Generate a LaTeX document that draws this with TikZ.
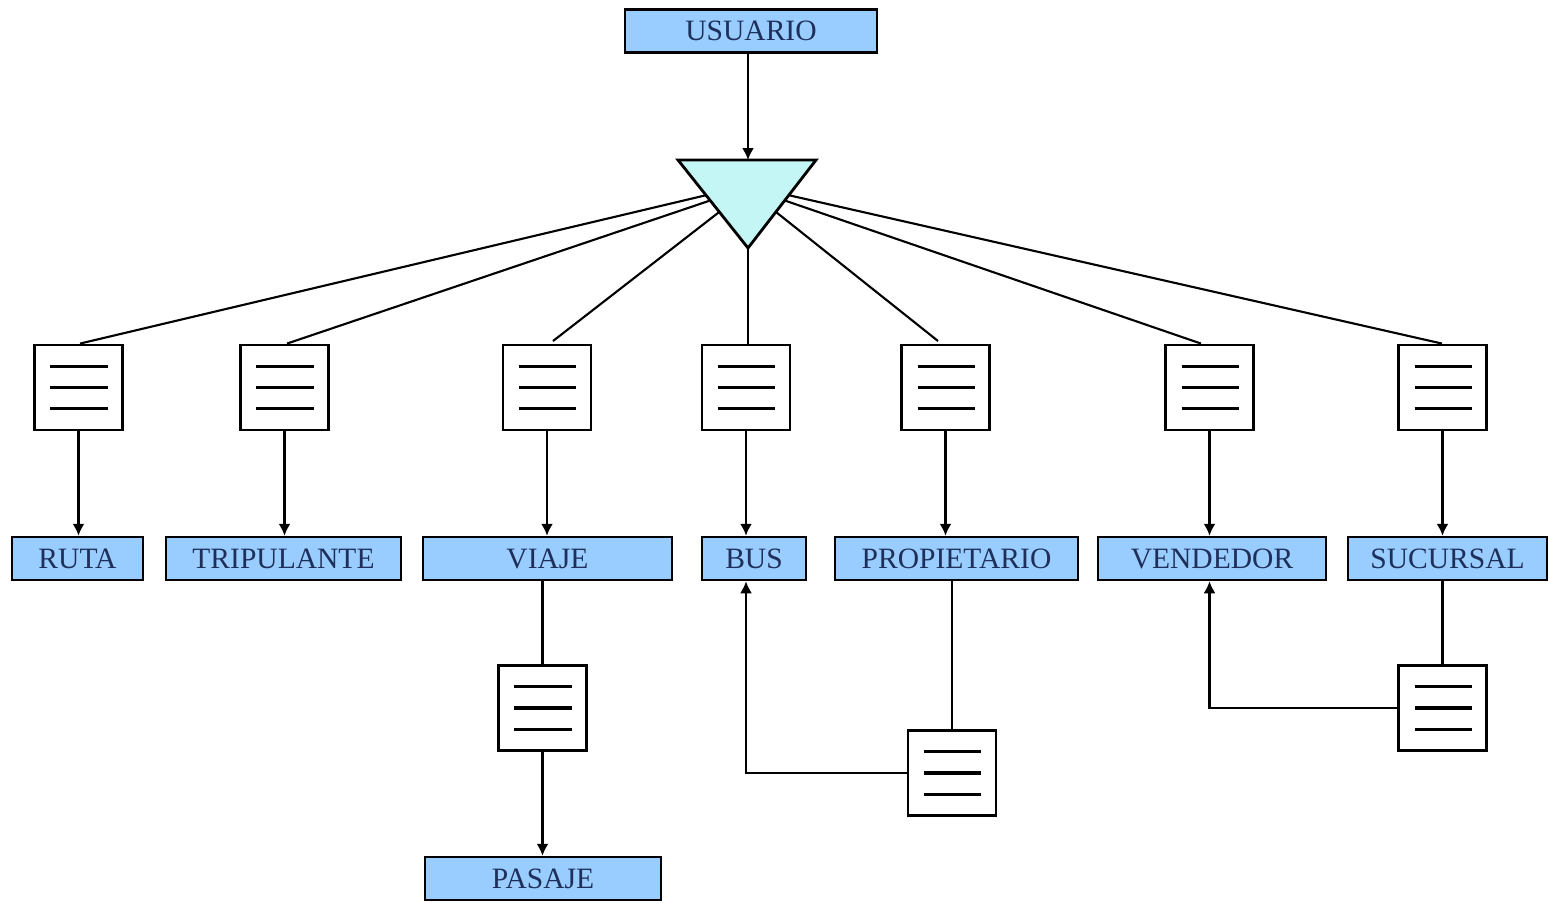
\documentclass[tikz,border=0pt]{standalone}
\usepackage{fontspec}
\setmainfont{Liberation Serif}
\usetikzlibrary{arrows.meta,calc}

\definecolor{entfill}{RGB}{153,204,255}
\definecolor{trifill}{RGB}{196,246,246}
\definecolor{enttext}{RGB}{30,48,90}

\tikzset{
  entity/.style={draw=black, line width=0.7pt, fill=entfill, minimum height=0.43cm,
    inner sep=0pt, font=\fontsize{8.4}{10}\selectfont, text=enttext},
  docbox/.style={draw=black, line width=0.8pt, fill=white, minimum width=0.88cm,
    minimum height=0.85cm, inner sep=0pt,
    path picture={
      \foreach \f in {0.25,0.5,0.75}
        \draw[line width=0.9pt]
          ($(path picture bounding box.north west)!\f!(path picture bounding box.south west)+(0.16cm,0)$) --
          ($(path picture bounding box.north east)!\f!(path picture bounding box.south east)+(-0.15cm,0)$);
    }},
  link/.style={line width=0.6pt, draw=black},
  arr/.style={link, -{Latex[length=1.2mm,width=1.2mm]}},
}

\begin{document}
\begin{tikzpicture}[x=0.01cm, y=-0.01cm]
  \useasboundingbox (0,0) rectangle (1549,902);

  % top entity
  \node[entity, minimum width=2.52cm] (usuario) at (751,31) {USUARIO};

  % selection triangle
  \coordinate (tl) at (678,160);
  \coordinate (tr) at (816,160);
  \coordinate (ta) at (748,248);
  \draw[line width=0.8pt, fill=trifill] (tl) -- (tr) -- (ta) -- cycle;
  \draw[arr] (usuario.south -| ta) -- (tl -| ta);

  % index documents of the first level
  \node[docbox] (druta)  at (78.5,387.5)  {};
  \node[docbox] (dtrip)  at (284.5,387.5) {};
  \node[docbox] (dviaje) at (547,387.5)   {};
  \node[docbox] (dbus)   at (746,387.5)   {};
  \node[docbox] (dprop)  at (945.5,387.5) {};
  \node[docbox] (dvend)  at (1209.5,387.5){};
  \node[docbox] (dsuc)   at (1442.5,387.5){};

  % entities of the first level
  \node[entity, minimum width=1.31cm] (ruta)  at (77.5,558.5)  {RUTA};
  \node[entity, minimum width=2.35cm] (trip)  at (283.5,558.5) {TRIPULANTE};
  \node[entity, minimum width=2.49cm] (viaje) at (547.5,558.5) {VIAJE};
  \node[entity, minimum width=1.04cm] (bus)   at (754,558.5)   {BUS};
  \node[entity, minimum width=2.43cm] (prop)  at (956.5,558.5) {PROPIETARIO};
  \node[entity, minimum width=2.28cm] (vend)  at (1212,558.5)  {VENDEDOR};
  \node[entity, minimum width=1.99cm] (suc)   at (1447.5,558.5){SUCURSAL};

  % lower documents and entity
  \node[docbox] (dpas)  at (542.5,708)  {};
  \node[docbox] (dbp)   at (952,773)    {};
  \node[docbox] (dvs)   at (1442.5,708) {};
  \node[entity, minimum width=2.36cm] (pasaje) at (543,878.5) {PASAJE};

  % fan-out from the triangle
  \draw[link] ($(tl)!0.40!(ta)$) -- (druta.north -| 80,0);
  \draw[link] ($(tl)!0.46!(ta)$) -- (dtrip.north -| 287,0);
  \draw[link] ($(tl)!0.59!(ta)$) -- (553,341);
  \draw[link] (ta) -- (dbus.north -| ta);
  \draw[link] ($(tr)!0.59!(ta)$) -- (938,341);
  \draw[link] ($(tr)!0.46!(ta)$) -- (dvend.north -| 1201,0);
  \draw[link] ($(tr)!0.40!(ta)$) -- (dsuc.north -| 1442,0);

  % documents to entities
  \foreach \d/\e in {druta/ruta, dtrip/trip, dviaje/viaje, dbus/bus, dprop/prop, dvend/vend, dsuc/suc}
    \draw[arr] (\d.south) -- (\d.south |- \e.north);

  % VIAJE -> PASAJE
  \draw[link] (viaje.south -| dpas.north) -- (dpas.north);
  \draw[arr] (dpas.south) -- (dpas.south |- pasaje.north);

  % PROPIETARIO -> BUS
  \draw[link] (prop.south -| dbp.north) -- (dbp.north);
  \draw[arr] (dbp.west) -| (dbus.south |- bus.south);

  % SUCURSAL -> VENDEDOR
  \draw[link] (suc.south -| dvs.north) -- (dvs.north);
  \draw[arr] (dvs.west) -| (dvend.south |- vend.south);
\end{tikzpicture}
\end{document}
